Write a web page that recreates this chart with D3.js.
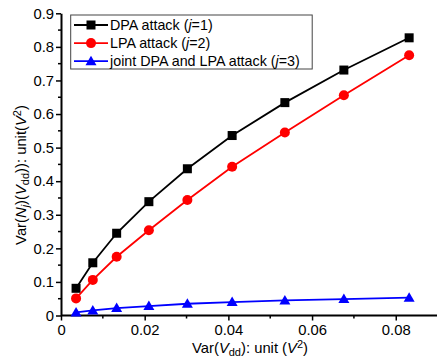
<!DOCTYPE html>
<html>
<head>
<meta charset="utf-8">
<script src="https://cdn.jsdelivr.net/npm/d3@7"></script>
<style>
  body { margin: 0; background: #fff; }
  svg { display: block; font-family: "Liberation Sans", Arial, sans-serif; }
</style>
</head>
<body>
<svg id="chart" width="437" height="358"></svg>
<script>
// data
var varVdd = [0.0036, 0.0076, 0.0133, 0.0210, 0.0302, 0.0409, 0.0535, 0.0676, 0.0832];
var dpaValues = [0.081, 0.157, 0.245, 0.339, 0.437, 0.536, 0.634, 0.731, 0.827];
var lpaValues = [0.051, 0.106, 0.175, 0.254, 0.344, 0.443, 0.545, 0.656, 0.775];
var jointValues = [0.009, 0.015, 0.022, 0.028, 0.035, 0.040, 0.045, 0.049, 0.053];
var xTicks = [0, 0.02, 0.04, 0.06, 0.08];
var yTicks = [0, 0.1, 0.2, 0.3, 0.4, 0.5, 0.6, 0.7, 0.8, 0.9];

var series = [
  { name: 'DPA attack (', j: '=1)', values: dpaValues, color: '#000000', marker: 'square' },
  { name: 'LPA attack (', j: '=2)', values: lpaValues, color: '#ff0000', marker: 'circle' },
  { name: 'joint DPA and LPA attack (', j: '=3)', values: jointValues, color: '#0000ff', marker: 'triangle' }
];

var config = {
  left: 61,
  right: 437.6,
  top: 13.3,
  bottom: 315.5,
  fontSize: 14.8,
  legendFontSize: 14.3,
  subSize: 11,
  lineWidth: 1.8
};

var svg = d3.select('#chart');

var x = d3.scaleLinear().domain([0, 0.09]).range([config.left, config.right]);
var y = d3.scaleLinear().domain([0, 0.9]).range([config.bottom, config.top]);

// minor ticks
var xMinor = d3.range(0.01, 0.09, 0.02);
var yMinor = d3.range(0.05, 0.9, 0.1);

var xAxis = svg.append('g')
  .attr('transform', 'translate(0,' + config.bottom + ')')
  .call(d3.axisBottom(x).tickValues(xTicks).tickSize(5).tickSizeOuter(0)
    .tickFormat(function(d) { return d === 0 ? '0' : d3.format('.2f')(d); }));
xAxis.append('g').selectAll('line').data(xMinor).enter().append('line')
  .attr('x1', function(d) { return x(d); }).attr('x2', function(d) { return x(d); })
  .attr('y1', 0).attr('y2', 3).attr('stroke', '#000').attr('stroke-width', 1.5);

var yAxis = svg.append('g')
  .attr('transform', 'translate(' + config.left + ',0)')
  .call(d3.axisLeft(y).tickValues(yTicks).tickSize(5).tickSizeOuter(0)
    .tickFormat(function(d) { return d === 0 ? '0' : d3.format('.1f')(d); }));
yAxis.append('g').selectAll('line').data(yMinor).enter().append('line')
  .attr('y1', function(d) { return y(d); }).attr('y2', function(d) { return y(d); })
  .attr('x1', 0).attr('x2', -3).attr('stroke', '#000').attr('stroke-width', 1.5);

[xAxis, yAxis].forEach(function(a) {
  a.select('.domain').attr('stroke', '#000').attr('stroke-width', 2);
  a.selectAll('.tick line').attr('stroke', '#000').attr('stroke-width', 1.5);
  a.selectAll('.tick text')
    .attr('font-family', '"Liberation Sans", Arial, sans-serif')
    .attr('font-size', config.fontSize)
    .attr('fill', '#000');
});
xAxis.selectAll('.tick text').attr('dy', '0.95em').attr('y', 5);
yAxis.selectAll('.tick text').attr('x', -7);
xAxis.select('.domain').attr('d', 'M' + config.left + ',0H' + config.right);

function drawMarker(sel, type, color) {
  if (type === 'square') {
    sel.append('rect').attr('x', -4.5).attr('y', -4.5).attr('width', 9).attr('height', 9).attr('fill', color);
  } else if (type === 'circle') {
    sel.append('circle').attr('r', 5).attr('fill', color);
  } else {
    sel.append('path').attr('d', 'M0,-5.5L5.5,4L-5.5,4Z').attr('fill', color);
  }
}

var line = d3.line()
  .x(function(d, i) { return x(varVdd[i]); })
  .y(function(d) { return y(d); });

series.forEach(function(s) {
  svg.append('path')
    .attr('d', line(s.values))
    .attr('fill', 'none')
    .attr('stroke', s.color)
    .attr('stroke-width', config.lineWidth);
  svg.append('g').selectAll('g').data(s.values).enter().append('g')
    .attr('transform', function(d, i) { return 'translate(' + x(varVdd[i]) + ',' + y(d) + ')'; })
    .each(function() { drawMarker(d3.select(this), s.marker, s.color); });
});

// legend
var legend = svg.append('g');
legend.append('rect')
  .attr('x', 70.7).attr('y', 15).attr('width', 241.5).attr('height', 54)
  .attr('fill', '#fff').attr('stroke', '#444').attr('stroke-width', 1);
series.forEach(function(s, i) {
  var ly = 25 + i * 18.1;
  var row = legend.append('g').attr('transform', 'translate(0,' + ly + ')');
  row.append('line').attr('x1', 74).attr('x2', 108).attr('y1', 0).attr('y2', 0)
    .attr('stroke', s.color).attr('stroke-width', config.lineWidth);
  drawMarker(row.append('g').attr('transform', 'translate(91,0)'), s.marker, s.color);
  var t = row.append('text').attr('x', 110).attr('y', 0).attr('dy', '0.36em')
    .attr('font-size', config.legendFontSize).attr('fill', '#000');
  t.append('tspan').text(s.name);
  t.append('tspan').attr('font-style', 'italic').text('j');
  t.append('tspan').text(s.j);
});

// axis titles
var xt = svg.append('text')
  .attr('x', 250).attr('y', 353)
  .attr('text-anchor', 'middle')
  .attr('font-size', config.fontSize).attr('fill', '#000');
xt.append('tspan').text('Var(');
xt.append('tspan').attr('font-style', 'italic').text('V');
xt.append('tspan').attr('font-size', config.subSize).attr('dy', 3).text('dd');
xt.append('tspan').attr('dy', -3).text('): unit (');
xt.append('tspan').attr('font-style', 'italic').text('V');
xt.append('tspan').attr('font-size', config.subSize).attr('dy', -5).text('2');
xt.append('tspan').attr('dy', 5).text(')');

var yt = svg.append('text')
  .attr('transform', 'translate(26,175) rotate(-90)')
  .attr('text-anchor', 'middle')
  .attr('font-size', config.fontSize).attr('fill', '#000');
yt.append('tspan').text('Var(');
yt.append('tspan').attr('font-style', 'italic').text('N');
yt.append('tspan').attr('font-size', config.subSize).attr('font-style', 'italic').attr('dy', 3).text('j');
yt.append('tspan').attr('dy', -3).text(')(');
yt.append('tspan').attr('font-style', 'italic').text('V');
yt.append('tspan').attr('font-size', config.subSize).attr('dy', 3).text('dd');
yt.append('tspan').attr('dy', -3).text(')): unit(');
yt.append('tspan').attr('font-style', 'italic').text('V');
yt.append('tspan').attr('font-size', config.subSize).attr('dy', -5).text('2');
yt.append('tspan').attr('dy', 5).text(')');
</script>
</body>
</html>
